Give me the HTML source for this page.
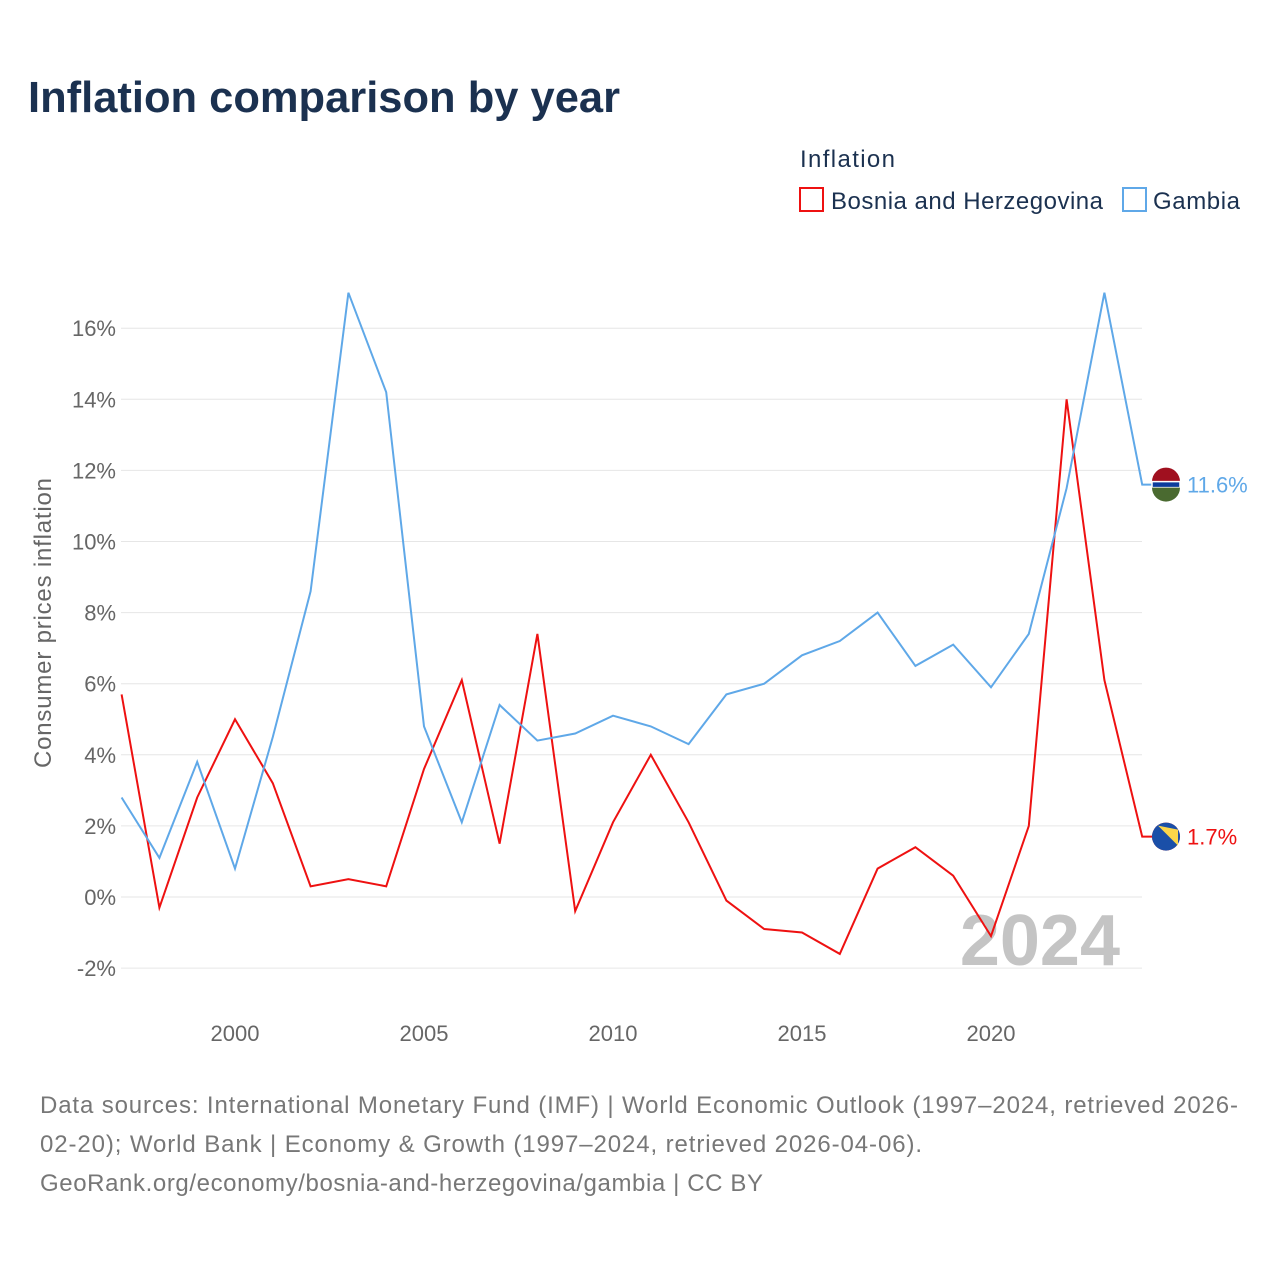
<!DOCTYPE html>
<html><head><meta charset="utf-8"><style>
body{margin:0;background:#fff;font-family:"Liberation Sans",sans-serif;}
</style></head><body>
<svg width="1280" height="1280" xmlns="http://www.w3.org/2000/svg" font-family="Liberation Sans, sans-serif">
<rect width="1280" height="1280" fill="#fff"/>
<text x="28" y="112" font-size="44" font-weight="bold" fill="#1b3150" textLength="592" lengthAdjust="spacingAndGlyphs">Inflation comparison by year</text>
<text x="800" y="167" font-size="24" fill="#1b3150" textLength="95">Inflation</text>
<g><rect x="800" y="188" width="23" height="23" fill="none" stroke="#ee1111" stroke-width="2"/><text x="831" y="209" font-size="24" fill="#1b3150" textLength="272">Bosnia and Herzegovina</text></g>
<g><rect x="1123" y="188" width="23" height="23" fill="none" stroke="#5fa8e8" stroke-width="2"/><text x="1153" y="209" font-size="24" fill="#1b3150" textLength="87">Gambia</text></g>
<g id="grid"></g>
<g id="yt"></g>
<g id="xt"></g>
<text transform="translate(51,623) rotate(-90)" text-anchor="middle" font-size="24" fill="#666" textLength="290">Consumer prices inflation</text>
<text x="1120" y="965" text-anchor="end" font-size="72" font-weight="bold" fill="#c4c4c4">2024</text>
<g id="series"></g>
<g font-size="24" fill="#777">
<text x="40" y="1113" textLength="1198">Data sources: International Monetary Fund (IMF) | World Economic Outlook (1997–2024, retrieved 2026-</text>
<text x="40" y="1152" textLength="882">02-20); World Bank | Economy &amp; Growth (1997–2024, retrieved 2026-04-06).</text>
<text x="40" y="1191" textLength="723">GeoRank.org/economy/bosnia-and-herzegovina/gambia | CC BY</text>
</g>
</svg>
<script>
const years=[1997,1998,1999,2000,2001,2002,2003,2004,2005,2006,2007,2008,2009,2010,2011,2012,2013,2014,2015,2016,2017,2018,2019,2020,2021,2022,2023,2024];
const bosnia=[5.7,-0.3,2.8,5.0,3.2,0.3,0.5,0.3,3.6,6.1,1.5,7.4,-0.4,2.1,4.0,2.1,-0.1,-0.9,-1.0,-1.6,0.8,1.4,0.6,-1.1,2.0,14.0,6.1,1.7];
const gambia=[2.8,1.1,3.8,0.8,4.5,8.6,17.0,14.2,4.8,2.1,5.4,4.4,4.6,5.1,4.8,4.3,5.7,6.0,6.8,7.2,8.0,6.5,7.1,5.9,7.4,11.5,17.0,11.6];
const yTicks=[-2,0,2,4,6,8,10,12,14,16];
const xTicks=[2000,2005,2010,2015,2020];
const NS="http://www.w3.org/2000/svg";
const X=v=>121.6+(v-1997)*37.8;
const Y=v=>897-v*35.55;
function mk(t,a,p){const e=document.createElementNS(NS,t);for(const k in a)e.setAttribute(k,a[k]);p.appendChild(e);return e;}
const grid=document.getElementById('grid'),yt=document.getElementById('yt'),xt=document.getElementById('xt'),ser=document.getElementById('series');
yTicks.forEach(v=>{
 const l=mk('line',{x1:121,x2:1142,y1:Y(v),y2:Y(v),stroke:'#e6e6e6','stroke-width':1},grid);
 
 
 const t=mk('text',{x:116,y:Y(v)+8,'text-anchor':'end','font-size':22,fill:'#666'},yt);
 t.textContent=v+'%';
 
 
});
xTicks.forEach(v=>{
 const t=mk('text',{x:X(v),y:1041,'text-anchor':'middle','font-size':22,fill:'#666'},xt);
 t.textContent=v;
 
 
});
function line(vals,col,name){
 let d=vals.map((v,i)=>(i?'L':'M')+X(years[i]).toFixed(1)+' '+Y(v).toFixed(1)).join(' ');
 const last=vals[vals.length-1];
 d+=' L'+(X(years[years.length-1])+10)+' '+Y(last).toFixed(1);
 const p=mk('path',{d:d,fill:'none',stroke:col,'stroke-width':2},ser);
 
 
 const c=mk('circle',{cx:1166,cy:Y(last),r:14,fill:col},ser);
 
 
 const t=mk('text',{x:1187,y:Y(last)+8,'font-size':22,fill:col},ser);
 t.textContent=last.toFixed(1)+'%';
 
 
 return c;
}
line(bosnia,'#ee1111','bosnia');
line(gambia,'#5fa8e8','gambia');
const gy=Y(gambia[gambia.length-1]);
const fg=mk('g',{},ser);


mk('path',{d:`M1152 ${gy-3} A14 14 0 0 1 1180 ${gy-3} Z`,fill:'#a0101f'},fg);
mk('rect',{x:1152,y:gy-3,width:28,height:6,fill:'#0c3c9c',stroke:'#fff','stroke-width':1.5},fg);
mk('path',{d:`M1152 ${gy+3} A14 14 0 0 0 1180 ${gy+3} Z`,fill:'#4a6a30'},fg);
const by=Y(bosnia[bosnia.length-1]);
const fb=mk('g',{},ser);


mk('circle',{cx:1166,cy:by,r:14,fill:'#1a4fa8'},fb);
mk('path',{d:`M1158 ${by-11} L1178 ${by-7} L1178 ${by+9} Z`,fill:'#fbd54a'},fb);
</script>
</body></html>
